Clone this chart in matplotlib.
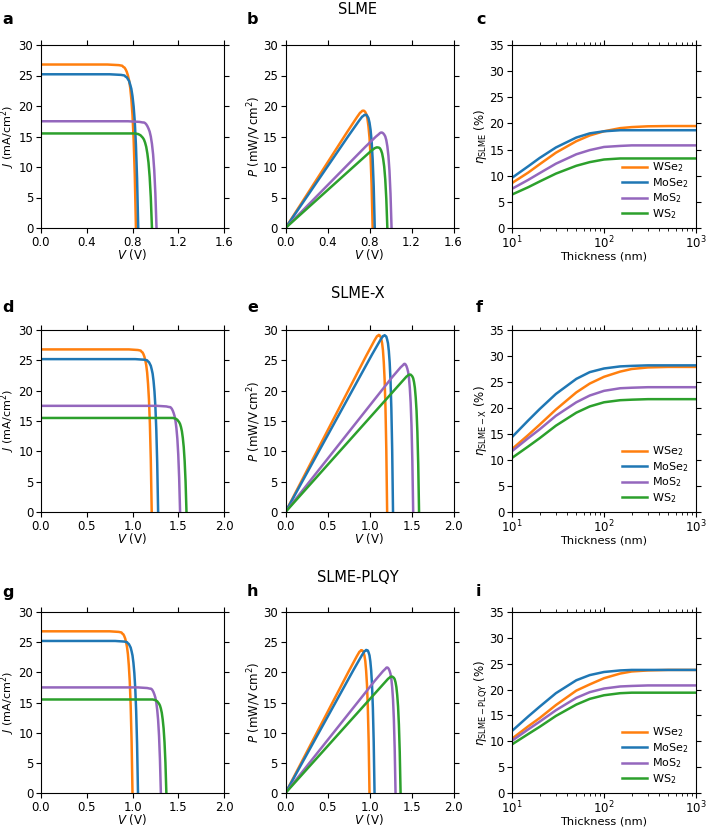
import matplotlib
matplotlib.use('Agg')
import matplotlib.pyplot as plt

materials = ['WSe$_2$', 'MoSe$_2$', 'MoS$_2$', 'WS$_2$']
colors = ['tab:orange', 'tab:blue', 'tab:purple', 'tab:green']
row_titles = ['SLME', 'SLME-X', 'SLME-PLQY']
eta_labels = [r'$\eta_{\rm SLME}$ (%)', r'$\eta_{\rm SLME-X}$ (%)', r'$\eta_{\rm SLME-PLQY}$ (%)']

# current density (same for every row, mA/cm2)
j_wse2 = [26.8, 26.8, 26.7, 26.6, 26.4, 26.3, 26.0, 25.6, 25.0, 24.2, 23.0, 21.1, 18.5, 14.5, 8.6, 0.0]
j_mose2 = [25.2, 25.2, 25.1, 25.0, 24.8, 24.7, 24.4, 24.1, 23.5, 22.8, 21.6, 19.9, 17.4, 13.6, 8.1, 0.0]
j_mos2 = [17.5, 17.5, 17.4, 17.3, 17.3, 17.2, 17.0, 16.7, 16.3, 15.8, 15.0, 13.8, 12.1, 9.5, 5.6, 0.0]
j_ws2 = [15.5, 15.5, 15.5, 15.4, 15.3, 15.2, 15.0, 14.8, 14.5, 14.0, 13.3, 12.2, 10.7, 8.4, 5.0, 0.0]
j_all = [j_wse2, j_mose2, j_mos2, j_ws2]

# voltages (V) for each row
v_slme = [
    [0, 0.58, 0.68, 0.71, 0.72, 0.73, 0.74, 0.75, 0.76, 0.77, 0.78, 0.79, 0.80, 0.81, 0.82, 0.83],
    [0, 0.60, 0.70, 0.73, 0.74, 0.75, 0.76, 0.77, 0.78, 0.79, 0.80, 0.81, 0.82, 0.83, 0.84, 0.85],
    [0, 0.76, 0.86, 0.89, 0.90, 0.91, 0.92, 0.93, 0.94, 0.95, 0.96, 0.97, 0.98, 0.99, 1.00, 1.01],
    [0, 0.72, 0.82, 0.85, 0.86, 0.87, 0.88, 0.89, 0.90, 0.91, 0.92, 0.93, 0.94, 0.95, 0.96, 0.97],
]
v_slmex = [
    [0, 0.96, 1.06, 1.09, 1.10, 1.11, 1.12, 1.13, 1.14, 1.15, 1.16, 1.17, 1.18, 1.19, 1.20, 1.21],
    [0, 1.03, 1.13, 1.16, 1.17, 1.18, 1.19, 1.20, 1.21, 1.22, 1.23, 1.24, 1.25, 1.26, 1.27, 1.28],
    [0, 1.27, 1.37, 1.40, 1.41, 1.42, 1.43, 1.44, 1.45, 1.46, 1.47, 1.48, 1.49, 1.50, 1.51, 1.52],
    [0, 1.34, 1.44, 1.47, 1.48, 1.49, 1.50, 1.51, 1.52, 1.53, 1.54, 1.55, 1.56, 1.57, 1.58, 1.59],
]
v_plqy = [
    [0, 0.75, 0.85, 0.88, 0.89, 0.90, 0.91, 0.92, 0.93, 0.94, 0.95, 0.96, 0.97, 0.98, 0.99, 1.00],
    [0, 0.81, 0.91, 0.94, 0.95, 0.96, 0.97, 0.98, 0.99, 1.00, 1.01, 1.02, 1.03, 1.04, 1.05, 1.06],
    [0, 1.06, 1.16, 1.19, 1.20, 1.21, 1.22, 1.23, 1.24, 1.25, 1.26, 1.27, 1.28, 1.29, 1.30, 1.31],
    [0, 1.12, 1.22, 1.25, 1.26, 1.27, 1.28, 1.29, 1.30, 1.31, 1.32, 1.33, 1.34, 1.35, 1.36, 1.37],
]
v_rows = [v_slme, v_slmex, v_plqy]

# efficiency vs thickness
thickness = [10, 15, 20, 30, 50, 70, 100, 150, 200, 300, 500, 1000]
eta_slme = [
    [8.6, 10.6, 12.2, 14.4, 16.6, 17.7, 18.5, 19.1, 19.3, 19.45, 19.5, 19.5],
    [9.6, 11.8, 13.4, 15.4, 17.3, 18.1, 18.5, 18.7, 18.7, 18.7, 18.7, 18.7],
    [7.5, 9.2, 10.5, 12.3, 14.1, 14.9, 15.5, 15.7, 15.8, 15.8, 15.8, 15.8],
    [6.4, 7.8, 8.9, 10.4, 11.9, 12.6, 13.1, 13.3, 13.3, 13.3, 13.3, 13.3],
]
eta_slmex = [
    [12.1, 14.8, 16.8, 19.7, 23.0, 24.7, 26.0, 27.0, 27.5, 27.8, 27.9, 27.9],
    [14.4, 17.6, 19.8, 22.7, 25.6, 26.9, 27.6, 28.0, 28.1, 28.2, 28.2, 28.2],
    [11.7, 14.2, 15.9, 18.5, 21.1, 22.4, 23.3, 23.8, 23.9, 24.0, 24.0, 24.0],
    [10.4, 12.6, 14.2, 16.6, 19.1, 20.3, 21.1, 21.5, 21.6, 21.7, 21.7, 21.7],
]
eta_plqy = [
    [10.5, 12.9, 14.5, 17.0, 19.8, 21.0, 22.2, 23.1, 23.5, 23.7, 23.8, 23.8],
    [12.0, 14.8, 16.7, 19.3, 21.8, 22.8, 23.4, 23.7, 23.8, 23.8, 23.8, 23.8],
    [10.1, 12.3, 13.8, 16.0, 18.4, 19.5, 20.2, 20.6, 20.7, 20.8, 20.8, 20.8],
    [9.4, 11.4, 12.8, 14.9, 17.1, 18.2, 18.9, 19.3, 19.4, 19.4, 19.4, 19.4],
]
eta_rows = [eta_slme, eta_slmex, eta_plqy]

letters = ['abc', 'def', 'ghi']

W, H = 706, 831
fig = plt.figure(figsize=(W / 100, H / 100), dpi=100)
plt.rcParams['font.size'] = 8.5


def px_axes(left, top, width, height):
    return fig.add_axes([left / W, (H - top - height) / H, width / W, height / H])


row_tops = [45, 330, 612]
row_h = [183, 182, 181]
col_left = [41, 285.5, 512]
col_w = [183, 168, 184]
title_y = [9, 293, 577]
letter_y = [20, 307, 592]

for r in range(3):
    top = row_tops[r]
    h = row_h[r]
    axJ = px_axes(col_left[0], top, col_w[0], h)
    axP = px_axes(col_left[1], top, col_w[1], h)
    axE = px_axes(col_left[2], top, col_w[2], h)

    for m in range(4):
        v = v_rows[r][m]
        j = j_all[m]
        p = [vv * jj for vv, jj in zip(v, j)]
        axJ.plot(v, j, color=colors[m], lw=1.8)
        axP.plot(v, p, color=colors[m], lw=1.8)
        axE.plot(thickness, eta_rows[r][m], color=colors[m], lw=1.8, label=materials[m])

    xmax = 1.6 if r == 0 else 2.0
    xt = [0, 0.4, 0.8, 1.2, 1.6] if r == 0 else [0, 0.5, 1.0, 1.5, 2.0]
    for ax in (axJ, axP):
        ax.set_xlim(0, xmax)
        ax.set_xticks(xt)
        ax.set_ylim(0, 30)
        ax.set_yticks([0, 5, 10, 15, 20, 25, 30])
        ax.set_xlabel('$V$ (V)')
        ax.xaxis.set_label_coords(0.5, -19 / h)
    axJ.set_ylabel('$J$ (mA/cm$^2$)', fontsize=8)
    axJ.yaxis.set_label_coords(-23.5 / col_w[0], 0.5)
    axP.set_ylabel('$P$ (mW/V$\\,$cm$^2$)', labelpad=0)

    axE.set_xscale('log')
    axE.set_xlim(10, 1000)
    axE.set_ylim(0, 35)
    axE.set_yticks([0, 5, 10, 15, 20, 25, 30, 35])
    axE.set_xlabel('Thickness (nm)', fontsize=8.2)
    axE.xaxis.set_label_coords(0.5, -23.5 / h)
    axE.set_ylabel(eta_labels[r], labelpad=0)
    axE.legend(loc='lower right', frameon=False, fontsize=8, handlelength=2.2,
               handletextpad=0.5, labelspacing=0.15, borderaxespad=0.25)

    for ax in (axJ, axP, axE):
        ax.tick_params(which='both', direction='out', top=True, right=True,
                       labelsize=8.5, pad=2)
    axE.tick_params(axis='x', which='both', pad=1)

    fig.text(358 / W, 1 - title_y[r] / H, row_titles[r], ha='center', va='center', fontsize=10.5)
    for c, x in enumerate([2, 247, 476]):
        fig.text(x / W, 1 - letter_y[r] / H, letters[r][c], ha='left', va='center',
                 fontsize=11.5, fontweight='bold')

fig.savefig('out.png', dpi=100)
